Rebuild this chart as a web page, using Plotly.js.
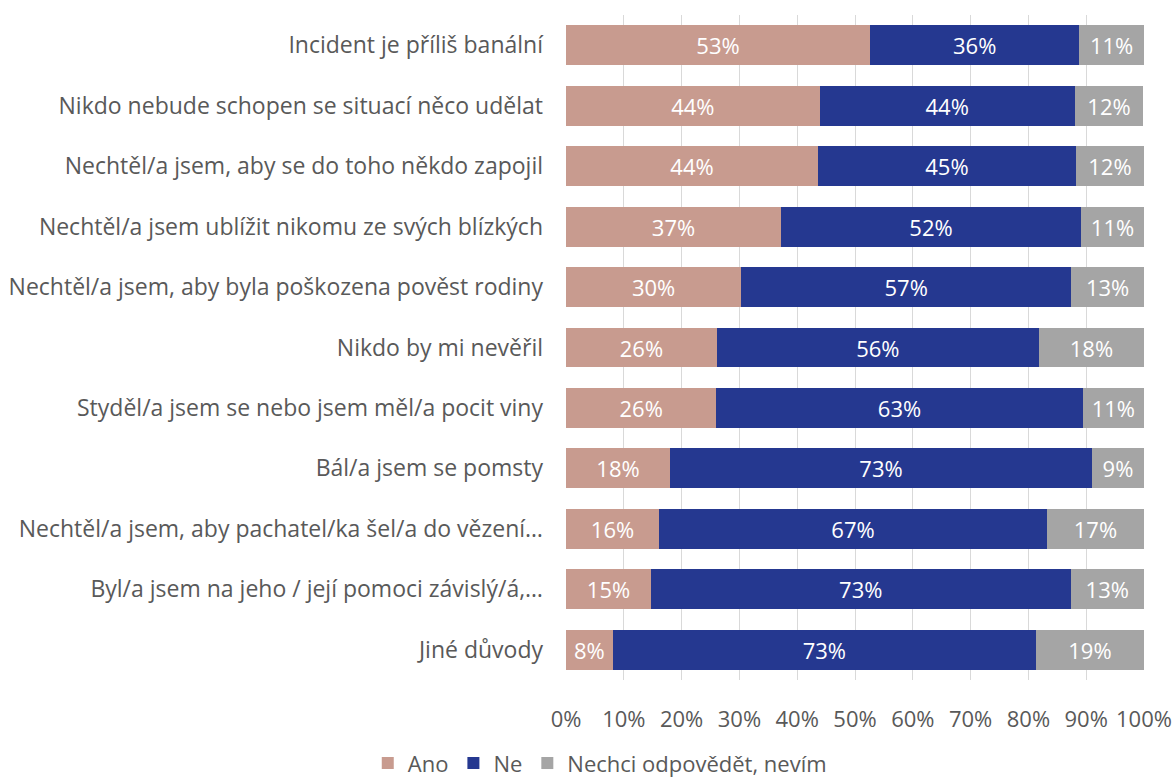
<!DOCTYPE html>
<html><head><meta charset="utf-8">
<script src="https://cdn.plot.ly/plotly-3.0.1.min.js"></script>
<style>html,body{margin:0;padding:0;background:#fff}</style>
</head><body><div id="chart" style="width:1176px;height:782px"></div>
<script>
const categories = [
  "Incident je příliš banální",
  "Nikdo nebude schopen se situací něco udělat",
  "Nechtěl/a jsem, aby se do toho někdo zapojil",
  "Nechtěl/a jsem ublížit nikomu ze svých blízkých",
  "Nechtěl/a jsem, aby byla poškozena pověst rodiny",
  "Nikdo by mi nevěřil",
  "Styděl/a jsem se nebo jsem měl/a pocit viny",
  "Bál/a jsem se pomsty",
  "Nechtěl/a jsem, aby pachatel/ka šel/a do vězení…",
  "Byl/a jsem na jeho / její pomoci závislý/á,…",
  "Jiné důvody"
];
const ano = [52.6, 43.9, 43.6, 37.2, 30.3, 26.1, 26.0, 18.0, 16.1, 14.7, 8.1];
const ne = [36.2, 44.1, 44.6, 51.9, 57.1, 55.7, 63.4, 73.0, 67.1, 72.6, 73.2];
const nevim = [11.2, 11.9, 11.8, 10.9, 12.6, 18.2, 10.6, 9.0, 16.8, 12.7, 18.7];
const seriesNames = ["Ano", "Ne", "Nechci odpovědět, nevím"];
const colors = ["#C89B8F", "#253890", "#A5A5A5"];

const font = "'Open Sans', 'Noto Sans', sans-serif";
const data = [ano, ne, nevim].map((vals, i) => ({
  type: "bar", orientation: "h", name: seriesNames[i],
  y: categories, x: vals,
  marker: {color: colors[i]},
  text: vals, texttemplate: "%{x:.0f}%", textposition: "inside",
  insidetextanchor: "middle", constraintext: "none",
  textfont: {color: "#ffffff", size: 22, family: font},
  hoverinfo: "skip"
}));

const layout = {
  barmode: "stack", bargap: 0.34,
  width: 1176, height: 782,
  margin: {l: 566, r: 32, t: 15, b: 102},
  paper_bgcolor: "#fff", plot_bgcolor: "#fff",
  font: {family: font, size: 22, color: "#595959"},
  xaxis: {
    range: [0, 100], dtick: 10, ticksuffix: "%",
    showgrid: true, gridcolor: "#D9D9D9", gridwidth: 1,
    zeroline: false, showline: false, ticks: "",
    ticklabelstandoff: 24, fixedrange: true,
    tickfont: {size: 22, color: "#595959"}
  },
  yaxis: {
    autorange: "reversed", showgrid: false, zeroline: false, ticks: "",
    ticklabelstandoff: 22, fixedrange: true,
    tickfont: {size: 23, color: "#595959"}
  },
  showlegend: true,
  legend: {
    orientation: "h", xref: "container", yref: "container",
    x: 0.51, xanchor: "center", y: 0.024, yanchor: "middle",
    font: {size: 22, color: "#595959"}, traceorder: "normal",
    itemwidth: 30
  }
};
Plotly.newPlot("chart", data, layout, {displayModeBar: false, staticPlot: true});
</script></body></html>
